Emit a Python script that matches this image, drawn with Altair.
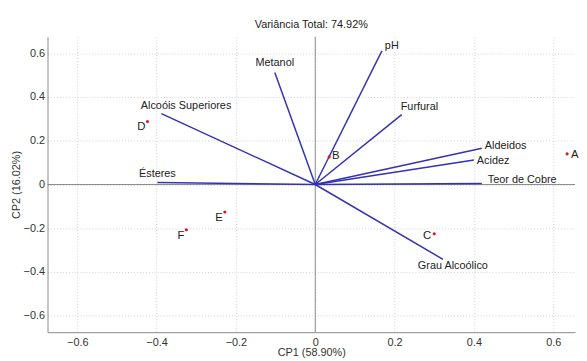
import altair as alt
import pandas as pd

# Loadings (vectors)
var_names = ["Metanol", "pH", "Furfural", "Aldeidos", "Acidez", "Teor de Cobre",
             "Grau Alcoólico", "Alcoóis Superiores", "Ésteres"]
var_cp1 = [-0.102, 0.168, 0.218, 0.420, 0.400, 0.420, 0.322, -0.388, -0.398]
var_cp2 = [0.512, 0.611, 0.319, 0.166, 0.112, 0.005, -0.342, 0.324, 0.009]

# Scores (samples)
smp_names = ["A", "B", "C", "D", "E", "F"]
smp_cp1 = [0.635, 0.035, 0.300, -0.423, -0.228, -0.325]
smp_cp2 = [0.140, 0.126, -0.225, 0.288, -0.126, -0.207]

ticks = [-0.6, -0.4, -0.2, 0, 0.2, 0.4, 0.6]

vec = pd.DataFrame({"name": var_names, "x": var_cp1, "y": var_cp2,
                    "x0": [0.0] * len(var_names), "y0": [0.0] * len(var_names)})
smp = pd.DataFrame({"name": smp_names, "x": smp_cp1, "y": smp_cp2})
zero = pd.DataFrame({"v": [0.0]})

FONT = "Liberation Sans"
xs = alt.Scale(domain=[-0.675, 0.655], nice=False, zero=False)
ys = alt.Scale(domain=[-0.675, 0.675], nice=False, zero=False)

xax = alt.Axis(values=ticks, title="CP1 (58.90%)", grid=True, ticks=False,
               labelPadding=4, titlePadding=0, format="~g")
yax = alt.Axis(values=ticks, title="CP2 (16.02%)", grid=True, ticks=False,
               labelPadding=3, titlePadding=2, format="~g")

base_v = alt.Chart(vec)
base_s = alt.Chart(smp)

# invisible layer carrying the axes
axes = alt.Chart(smp).mark_point(opacity=0).encode(
    x=alt.X("x:Q", scale=xs, axis=xax),
    y=alt.Y("y:Q", scale=ys, axis=yax),
)

vzero = alt.Chart(zero).mark_rule(color="#8a8a8a", strokeWidth=1).encode(x=alt.X("v:Q", scale=xs))
hzero = alt.Chart(zero).mark_rule(color="#8a8a8a", strokeWidth=1).encode(y=alt.Y("v:Q", scale=ys))

vectors = base_v.mark_rule(color="#3333b3", strokeWidth=1.5).encode(
    x=alt.X("x0:Q", scale=xs), y=alt.Y("y0:Q", scale=ys),
    x2="x:Q", y2="y:Q",
)

points = base_s.mark_circle(color="#e0141e", size=10, opacity=1).encode(
    x=alt.X("x:Q", scale=xs), y=alt.Y("y:Q", scale=ys),
)

# label styles: (align, dx, dy)
var_style = {
    "Metanol": ("center", 0, -10),
    "pH": ("left", 3, -5),
    "Furfural": ("left", -1, -8),
    "Aldeidos": ("left", 3, -2),
    "Acidez": ("left", 3, 1),
    "Teor de Cobre": ("left", 6, -3),
    "Grau Alcoólico": ("center", 10, 7),
    "Alcoóis Superiores": ("center", 25, -8),
    "Ésteres": ("center", 0, -9),
}
smp_style = {
    "A": ("left", 4, 1),
    "B": ("left", 3, -1),
    "C": ("right", -3, 2),
    "D": ("right", -2, 6),
    "E": ("right", -2, 6),
    "F": ("right", -2, 6),
}

labels = []
for n, (al, dx, dy) in var_style.items():
    labels.append(
        base_v.transform_filter(alt.datum.name == n).mark_text(
            align=al, baseline="middle", dx=dx, dy=dy, font=FONT, fontSize=11, color="#222222"
        ).encode(x=alt.X("x:Q", scale=xs), y=alt.Y("y:Q", scale=ys), text="name:N")
    )
for n, (al, dx, dy) in smp_style.items():
    labels.append(
        base_s.transform_filter(alt.datum.name == n).mark_text(
            align=al, baseline="middle", dx=dx, dy=dy, font=FONT, fontSize=11.5, color="#222222"
        ).encode(x=alt.X("x:Q", scale=xs), y=alt.Y("y:Q", scale=ys), text="name:N")
    )

chart = alt.layer(axes, vzero, hzero, vectors, points, *labels).properties(
    width=534,
    height=299,
    autosize="none",
    padding={"left": 40, "top": 27, "right": 4, "bottom": 26},
    title=alt.TitleParams("Variância Total: 74.92%", font=FONT, fontSize=11,
                          fontWeight="normal", color="#222222", offset=6),
).configure_view(stroke=None).configure_axis(
    labelFont=FONT, titleFont=FONT, labelFontSize=11, titleFontSize=11,
    titleFontWeight="normal", labelColor="#333333", titleColor="#333333",
    domainColor="#8a8a8a", gridColor="#cfcfcf", gridDash=[1, 2], gridWidth=1,
).configure_axisX(domain=True).configure_axisY(domain=True)

chart.save("out.html", embed_options={"renderer": "svg", "actions": False})
